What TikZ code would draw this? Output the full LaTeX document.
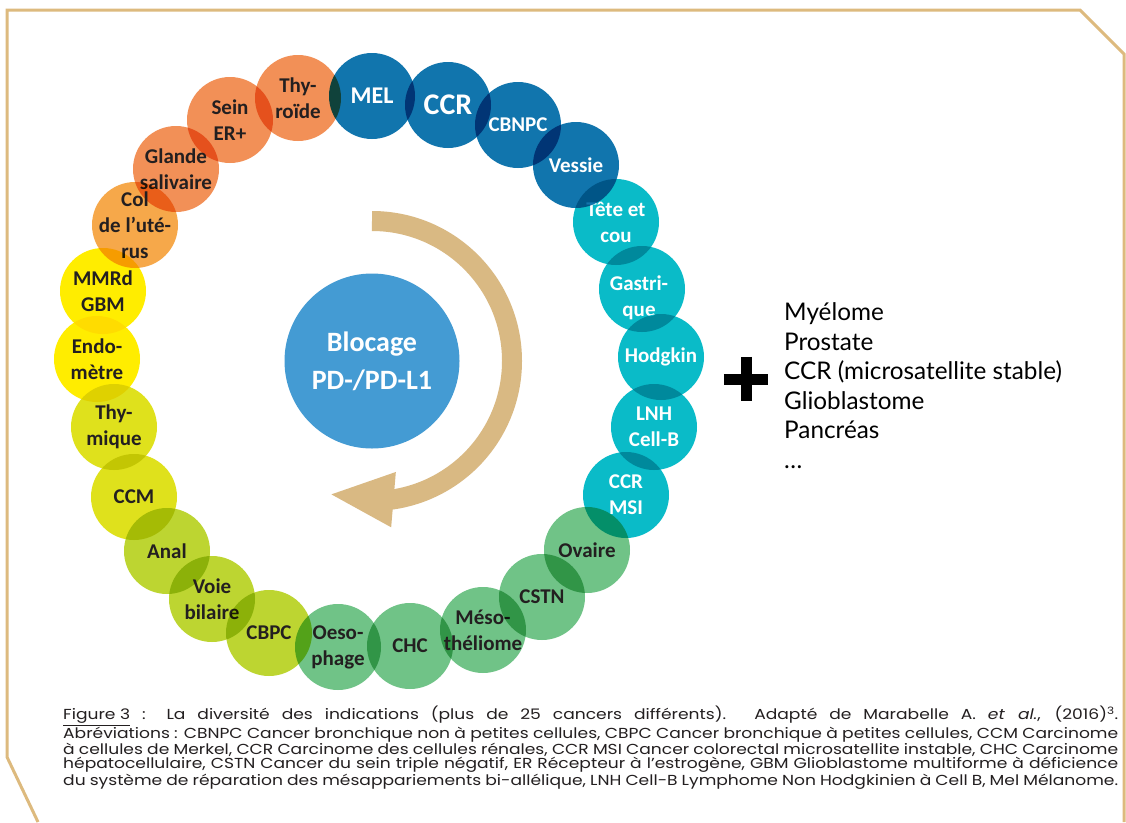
\documentclass[tikz,border=0pt]{standalone}
\usepackage{fontspec}
\setmainfont{Poppins}
\newfontfamily\capfont[FakeStretch=1.18]{Poppins}
\newfontfamily\condfont{Carlito}
\newfontfamily\listfont{Lato}
\usetikzlibrary{arrows.meta,bending}

\definecolor{dblue}{HTML}{1175AD}
\definecolor{cteal}{HTML}{0ABBC8}
\definecolor{cgreen}{HTML}{70C387}
\definecolor{clime}{HTML}{BDD531}
\definecolor{colive}{HTML}{DFE11C}
\definecolor{cyellow}{HTML}{FFED00}
\definecolor{capricot}{HTML}{F6A84A}
\definecolor{corange}{HTML}{F29057}
\definecolor{cmid}{HTML}{449BD3}
\definecolor{ctan}{HTML}{D9B983}
\definecolor{cframe}{HTML}{DDBA7E}
\definecolor{ink}{HTML}{231F20}

\begin{document}
\begin{tikzpicture}[x=1pt, y=-1pt,
        disc/.style={circle, minimum size=86pt, inner sep=0pt, blend mode=multiply},
        darklbl/.style={text=ink, align=center, inner sep=0pt, font=\condfont\bfseries\fontsize{21}{26}\selectfont},
        lightlbl/.style={darklbl, text=white}]
                \fill [white] (0,0) rectangle (1126,822);
                \useasboundingbox (0,0) rectangle (1126,822);
                % cadre
                \draw [cframe, line width=3pt] (38,822) -- (7,757) -- (7,10) -- (1080,10) -- (1124,54) -- (1124,822);

                % centre et fleche
                \node [circle, fill=cmid, minimum size=175pt, inner sep=0pt, text=white, align=center, font=\condfont\bfseries\fontsize{28}{38}\selectfont] (blocage) at (372,361) {Blocage\\PD-/PD-L1};
                \draw [ctan, line width=20pt, -{Triangle[width=50pt, length=65pt, flex]}] ([shift={(-90:140)}]blocage.center) arc [start angle=-90, end angle=108, radius=140];

                % cercles
                \node [disc, fill=cteal] (gastrique) at (642,289) {};
                \node [lightlbl] (gastrique-t) at (639,298) {Gastri-\\que};
                \node [disc, fill=cteal] (tetecou) at (616,222) {};
                \node [lightlbl] (tetecou-t) at (tetecou) {Tête et\\cou};
                \node [disc, fill=dblue] (vessie) at (576,165) {};
                \node [lightlbl] (vessie-t) at (vessie) {Vessie};
                \node [disc, fill=dblue] (cbnpc) at (518,125) {};
                \node [lightlbl] (cbnpc-t) at (cbnpc) {CBNPC};
                \node [disc, fill=dblue] (ccr) at (448,105) {};
                \node [lightlbl, font=\condfont\bfseries\fontsize{30}{30}\selectfont] (ccr-t) at (ccr) {CCR};
                \node [disc, fill=dblue] (mel) at (372,96) {};
                \node [lightlbl, font=\condfont\bfseries\fontsize{24}{24}\selectfont] (mel-t) at (mel) {MEL};
                \node [disc, fill=corange] (thyroide) at (298,98) {};
                \node [darklbl] (thyroide-t) at (thyroide) {Thy-\\roïde};
                \node [disc, fill=corange] (sein) at (230,120) {};
                \node [darklbl] (sein-t) at (sein) {Sein\\ER+};
                \node [disc, fill=corange] (glande) at (176,169) {};
                \node [darklbl] (glande-t) at (glande) {Glande\\salivaire};
                \node [disc, fill=capricot] (col) at (135,225) {};
                \node [darklbl] (col-t) at (col) {Col\\de l’uté-\\rus};
                \node [disc, fill=cyellow] (mmrd) at (103,291) {};
                \node [darklbl] (mmrd-t) at (mmrd) {MMRd\\GBM};
                \node [disc, fill=cyellow] (endo) at (97,359) {};
                \node [darklbl] (endo-t) at (endo) {Endo-\\mètre};
                \node [disc, fill=colive] (thymique) at (114,427) {};
                \node [darklbl] (thymique-t) at (thymique) {Thy-\\mique};
                \node [disc, fill=colive] (ccm) at (134,497) {};
                \node [darklbl] (ccm-t) at (ccm) {CCM};
                \node [disc, fill=clime] (anal) at (167,551) {};
                \node [darklbl] (anal-t) at (anal) {Anal};
                \node [disc, fill=clime] (voie) at (212,599) {};
                \node [darklbl] (voie-t) at (voie) {Voie\\bilaire};
                \node [disc, fill=clime] (cbpc) at (269,633) {};
                \node [darklbl] (cbpc-t) at (cbpc) {CBPC};
                \node [disc, fill=cgreen] (oeso) at (338,647) {};
                \node [darklbl] (oeso-t) at (oeso) {Oeso-\\phage};
                \node [disc, fill=cgreen] (chc) at (410,646) {};
                \node [darklbl] (chc-t) at (chc) {CHC};
                \node [disc, fill=cgreen] (meso) at (483,630) {};
                \node [darklbl] (meso-t) at (meso) {Méso-\\théliome};
                \node [disc, fill=cgreen] (cstn) at (542,597) {};
                \node [darklbl] (cstn-t) at (cstn) {CSTN};
                \node [disc, fill=cgreen] (ovaire) at (587,550) {};
                \node [darklbl] (ovaire-t) at (ovaire) {Ovaire};
                \node [disc, fill=cteal] (ccrmsi) at (626,495) {};
                \node [lightlbl] (ccrmsi-t) at (ccrmsi) {CCR\\MSI};
                \node [disc, fill=cteal] (lnh) at (654,427) {};
                \node [lightlbl] (lnh-t) at (lnh) {LNH\\Cell-B};
                \node [disc, fill=cteal] (hodgkin) at (661,357) {};
                \node [lightlbl] (hodgkin-t) at (hodgkin) {Hodgkin};

                % autres indications
                \node [inner sep=0pt, minimum size=44pt] (plus) at (746,379) {};
                \draw [black, line width=11pt] (plus.west) -- (plus.east);
                \draw [black, line width=11pt] (plus.north) -- (plus.south);
                \node [anchor=base west, align=left, inner sep=0pt, text=black, font=\listfont\fontsize{24.3}{29.5}\selectfont] (autres) at (784,468) {Myélome\\Prostate\\CCR (microsatellite stable)\\Glioblastome\\Pancréas\\…};

                % legende
                \node [anchor=base west, align=left, inner sep=0pt, text=ink, font=\capfont\fontsize{14.5}{14.5}\selectfont] (legende) at (63,785) {%
                    \makebox[1055pt][s]{\underline{Figure 3} : La diversité des indications (plus de 25 cancers différents). Adapté de Marabelle A. \textit{et al.}, (2016)\textsuperscript{3}.}\\
                    \makebox[1055pt][s]{Abréviations : CBNPC Cancer bronchique non à petites cellules, CBPC Cancer bronchique à petites cellules, CCM Carcinome}\\
                    \makebox[1055pt][s]{à cellules de Merkel, CCR Carcinome des cellules rénales, CCR MSI Cancer colorectal microsatellite instable, CHC Carcinome}\\
                    \makebox[1055pt][s]{hépatocellulaire, CSTN Cancer du sein triple négatif, ER Récepteur à l’estrogène, GBM Glioblastome multiforme à déficience}\\
                    \makebox[1055pt][s]{du système de réparation des mésappariements bi-allélique, LNH Cell-B Lymphome Non Hodgkinien à Cell B, Mel Mélanome.}};
\end{tikzpicture}
\end{document}
